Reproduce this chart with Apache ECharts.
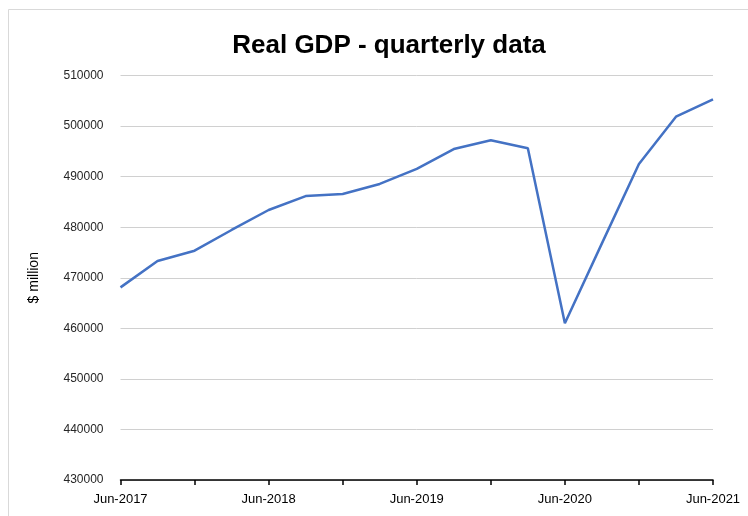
<!DOCTYPE html>
<html>
<head>
<meta charset="utf-8">
<script src="https://cdn.jsdelivr.net/npm/echarts@6/dist/echarts.min.js"></script>
<style>
html,body{margin:0;padding:0;background:#fff;}
#chart{width:748px;height:516px;}
</style>
</head>
<body>
<div id="chart"></div>
<script>
const quarters = ["Jun-2017","Sep-2017","Dec-2017","Mar-2018","Jun-2018","Sep-2018","Dec-2018","Mar-2019","Jun-2019","Sep-2019","Dec-2019","Mar-2020","Jun-2020","Sep-2020","Dec-2020","Mar-2021","Jun-2021"];
const gdp = [468100,473300,475350,479450,483400,486150,486550,488550,491550,495450,497200,495600,461000,476800,492500,501850,505300];
const titleText = "Real GDP - quarterly data";
const yAxisName = "$ million";
const yMin = 430000, yMax = 510000, yStep = 10000;

const chart = echarts.init(document.getElementById('chart'), null, {renderer:'canvas'});
const font = '"Liberation Sans", Arial, sans-serif';
chart.setOption({
  animation:false,
  backgroundColor:'#ffffff',
  graphic:[{type:'rect',shape:{x:8.5,y:9.5,width:900,height:700},style:{fill:'none',stroke:'#d9d9d9',lineWidth:1},silent:true}],
  title:{text:titleText,left:384,textAlign:'center',top:28,textStyle:{fontFamily:font,fontSize:26,fontWeight:'bold',color:'#000'}},
  grid:{left:120.5,right:35,top:75.5,bottom:36,containLabel:false},
  xAxis:{type:'category',data:quarters,boundaryGap:false,
    axisLine:{lineStyle:{color:'#000',width:1.5}},
    axisTick:{show:true,interval:1,length:5,lineStyle:{color:'#000',width:1.5}},
    axisLabel:{interval:3,margin:13,fontFamily:font,fontSize:13,color:'#000'},
    splitLine:{show:false}},
  yAxis:{type:'value',min:yMin,max:yMax,interval:yStep,
    name:yAxisName,nameLocation:'middle',nameGap:79,nameRotate:90,
    nameTextStyle:{fontFamily:font,fontSize:14,color:'#000'},
    axisLine:{show:false},axisTick:{show:false},
    axisLabel:{margin:17,fontFamily:font,fontSize:12,color:'#262626',formatter:function(v){return String(v);}},
    splitLine:{lineStyle:{color:'#d0d0d0',width:1}}},
  series:[{type:'line',data:gdp,showSymbol:false,symbol:'none',
    lineStyle:{color:'#4472C4',width:2.5},itemStyle:{color:'#4472C4'}}]
});
</script>
</body>
</html>
